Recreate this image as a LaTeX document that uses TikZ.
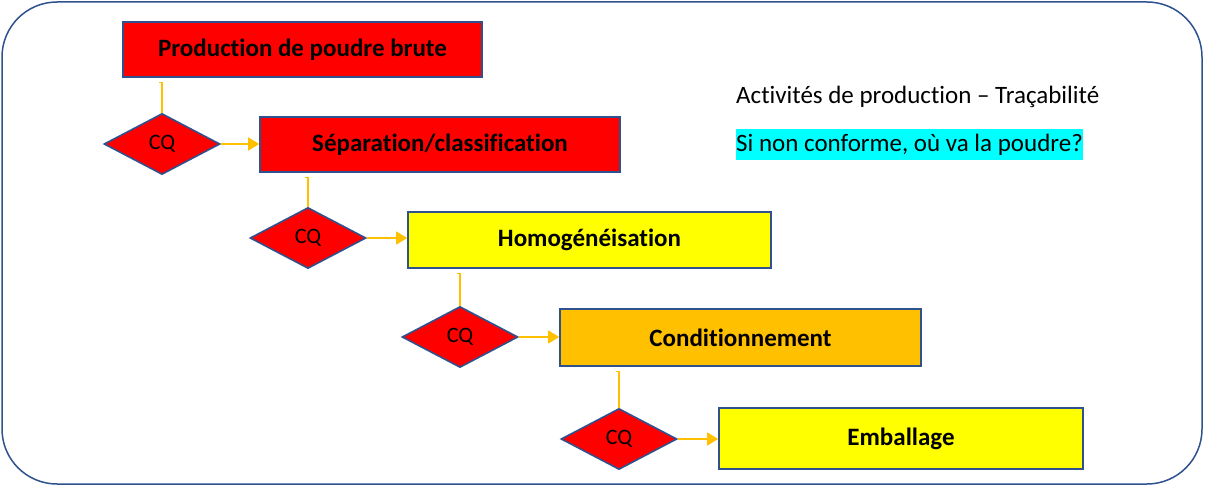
\documentclass[tikz,border=0pt]{standalone}
\usepackage{fontspec}
\setmainfont[Ligatures={NoCommon}]{Carlito}
\usetikzlibrary{shapes.geometric,arrows.meta}
\definecolor{bord}{HTML}{2F528F}
\definecolor{gold}{HTML}{FFC000}
\definecolor{redf}{HTML}{FF0000}
\definecolor{yelf}{HTML}{FFFF00}
\definecolor{cyanf}{HTML}{00FFFF}
\tikzset{
  stepbox/.style={draw=bord,line width=1.6pt,minimum width=#1,inner sep=0pt,font=\fontsize{25}{30}\selectfont\bfseries},
  cq/.style={draw=bord,line width=1.6pt,fill=redf,shape=diamond,inner sep=0pt,minimum width=116pt,minimum height=61pt,font=\fontsize{22}{26}\selectfont},
  conn/.style={draw=gold,line width=1.2pt},
  arr/.style={draw=gold,line width=1.2pt,-{Triangle[length=11pt,width=13pt,fill=gold]}},
}
\begin{document}
\begin{tikzpicture}[x=1pt,y=-1pt]
\useasboundingbox (0,0) rectangle (1205,487);
\fill[white] (0,0) rectangle (1205,487);
\draw[bord,line width=1.5pt,rounded corners=55pt] (2,2) rectangle (1202,484);

\node[stepbox=359pt,minimum height=55pt,fill=redf] (b1) at (302.5,49.5) {Production de poudre brute};
\node[stepbox=360pt,minimum height=55pt,fill=redf] (b2) at (440,144.5) {Séparation/classification};
\node[stepbox=363pt,minimum height=56pt,fill=yelf] (b3) at (589.5,240) {Homogénéisation};
\node[stepbox=361pt,minimum height=57pt,fill=gold] (b4) at (740.5,337.5) {Conditionnement};
\node[stepbox=364pt,minimum height=61pt,fill=yelf] (b5) at (901,438.5) {Emballage};

\node[cq] (d1) at (162,144) {CQ};
\node[cq] (d2) at (308,238) {CQ};
\node[cq] (d3) at (460,337) {CQ};
\node[cq] (d4) at (619,439) {CQ};

\draw[conn] (d1.north) -- ([yshift=-5pt]b1.south -| d1.north) -- ++(-3,0);
\draw[conn] (d2.north) -- ([yshift=-5pt]b2.south -| d2.north) -- ++(-3,0);
\draw[conn] (d3.north) -- ([yshift=-5pt]b3.south -| d3.north) -- ++(-3,0);
\draw[conn] (d4.north) -- ([yshift=-5pt]b4.south -| d4.north) -- ++(-3,0);

\draw[arr] (d1.east) -- (d1.east -| b2.west);
\draw[arr] (d2.east) -- (d2.east -| b3.west);
\draw[arr] (d3.east) -- (d3.east -| b4.west);
\draw[arr] (d4.east) -- (d4.east -| b5.west);

\node[anchor=west,inner sep=0pt,font=\fontsize{25}{30}\selectfont] (t1) at (736,97) {Activités de production – Traçabilité};
\node[anchor=west,inner xsep=0pt,inner ysep=0pt,minimum height=31pt,fill=cyanf,font=\fontsize{25}{30}\selectfont] (t2) at (736,144.5) {Si non conforme, où va la poudre?};
\end{tikzpicture}
\end{document}
